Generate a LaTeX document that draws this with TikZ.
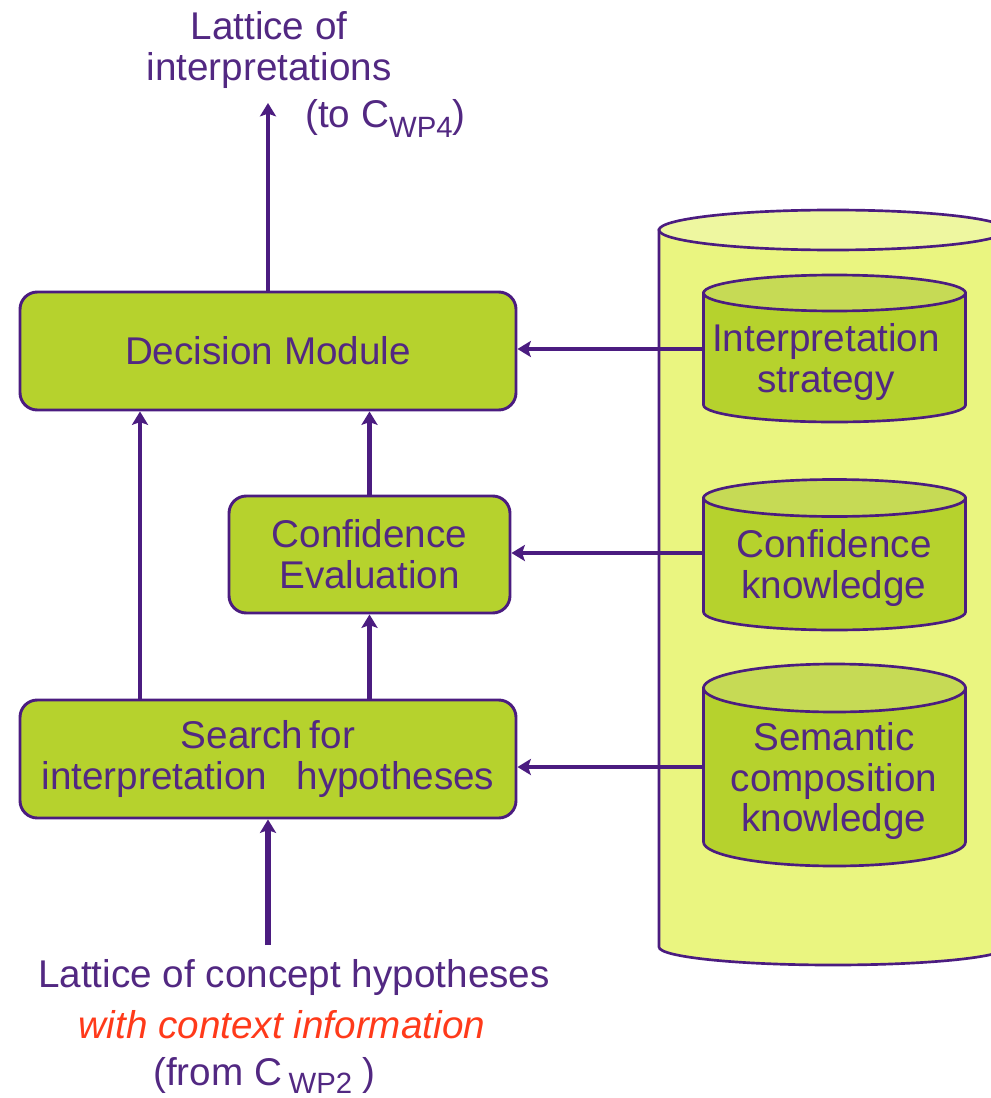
\documentclass[tikz,border=0pt]{standalone}
\usepackage{fontspec}
\setmainfont{Liberation Sans}
\usetikzlibrary{arrows.meta}

\definecolor{ink}{RGB}{75,28,128}
\definecolor{txt}{RGB}{82,40,130}
\definecolor{leaf}{RGB}{182,210,45}
\definecolor{leaftop}{RGB}{198,218,85}
\definecolor{pale}{RGB}{234,245,128}
\definecolor{paletop}{RGB}{238,247,160}
\definecolor{warn}{RGB}{255,58,26}

% vertical drum: cx, y top, ry top, y bottom, ry bottom, rx, body fill, lid fill
\newcommand\drum[8]{%
  \filldraw[fill=#7, draw=ink, line width=2pt]
    (#1-#6,-#2) -- (#1-#6,-#4)
    arc[start angle=180, end angle=360, x radius=#6, y radius=#5]
    -- (#1+#6,-#2) -- cycle;
  \filldraw[fill=#8, draw=ink, line width=2pt]
    (#1,-#2) ellipse[x radius=#6, y radius=#3];
}

\begin{document}
\begin{tikzpicture}[x=0.75pt, y=0.75pt,
  bodyfont/.style={font=\fontsize{29}{30.5}\selectfont},
  module/.style={draw=ink, line width=2.2pt, fill=leaf, rounded corners=13pt,
    text=txt, align=center, bodyfont, inner sep=0pt},
  storetext/.style={text=txt, align=center, bodyfont, inner sep=0pt},
  label/.style={text=txt, align=center, font=\fontsize{29}{30.75}\selectfont, inner sep=0pt},
  flow/.style={draw=ink, line width=3.4pt,
    -{Stealth[length=10pt, width=12pt, inset=2pt]}}
]
\useasboundingbox (0,0) rectangle (991,-1098);
\clip (0,0) rectangle (991,-1098);

% knowledge base with its three stores
\drum{833}{230}{20}{947}{18}{174}{pale}{paletop}
\drum{834.5}{293}{18}{405}{17}{131}{leaf}{leaftop}
\drum{834.5}{498}{18.5}{612}{18}{131}{leaf}{leaftop}
\drum{834.5}{688}{24}{842}{24}{131}{leaf}{leaftop}

\node[storetext] (ist) at (826,-362) {Interpretation\\strategy};
\node[storetext] (ck)  at (834,-568) {Confidence\\knowledge};
\node[storetext] (sck) at (834,-781) {Semantic\\composition\\knowledge};

% processing modules
\node[module, minimum width=372pt, minimum height=88.5pt] (dm) at (268,-351)
  {Decision Module};
\node[module, minimum width=210.75pt, minimum height=87.75pt] (ce) at (369.5,-554.5)
  {Confidence\\Evaluation};
\node[module, minimum width=372pt, minimum height=88.5pt] (sh) at (268,-759)
  {Search\hspace{5pt}for\\interpretation\hspace{22pt}hypotheses};

% input / output labels
\node[label] (outlbl) at (269,-50) {Lattice of\\interpretations};
\node[label, anchor=west] (outsrc) at (305,-118)
  {(to C\raisebox{-7.5pt}{\fontsize{22}{22}\selectfont WP4})};
\node[label] (inlbl) at (294,-977) {Lattice of concept hypotheses};
\node[label, text=warn, font=\fontsize{29}{30.75}\selectfont\itshape] (inctx) at (282,-1025)
  {with context information};
\node[label, anchor=west] (insrc) at (153,-1075)
  {(from C\,\raisebox{-6pt}{\fontsize{22}{22}\selectfont WP2} )};

% connectors
\coordinate (outtip) at (266,-103);
\coordinate (inbase) at (267,-945);
\coordinate (leftcol) at (140,0);
\coordinate (tap1) at (703.5,-349);
\coordinate (tap2) at (703.5,-553);
\coordinate (tap3) at (703.5,-767);

\draw[flow] (dm.north) -- (dm.north |- outtip);
\draw[flow, line width=5pt] (sh.south |- inbase) -- (sh.south);
\draw[flow] (sh.north -| leftcol) -- (dm.south -| leftcol);
\draw[flow] (ce.south |- sh.north) -- (ce.south);
\draw[flow] (ce.north) -- (ce.north |- dm.south);
\draw[flow] (tap1) -- (tap1 -| dm.east);
\draw[flow] (tap2) -- (tap2 -| ce.east);
\draw[flow] (tap3) -- (tap3 -| sh.east);
\end{tikzpicture}
\end{document}
